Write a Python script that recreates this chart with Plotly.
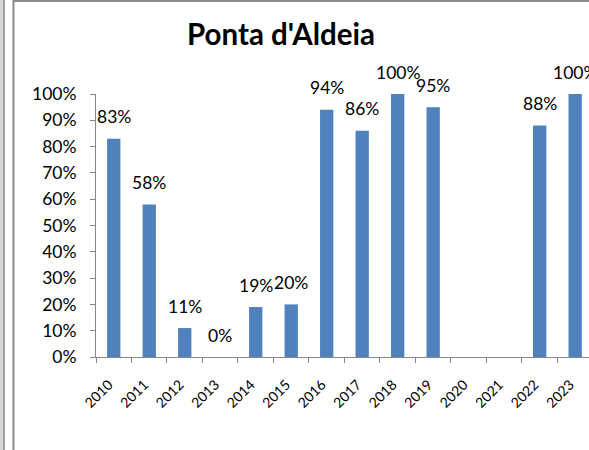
import plotly.graph_objects as go

years = ["2010", "2011", "2012", "2013", "2014", "2015", "2016",
         "2017", "2018", "2019", "2020", "2021", "2022", "2023"]
values = [83, 58, 11, 0, 19, 20, 94, 86, 100, 95, None, None, 88, 100]
y_ticks = [0, 10, 20, 30, 40, 50, 60, 70, 80, 90, 100]
title_text = "Ponta d'Aldeia"

W, H = 589, 450
L, R, T, B = 96, 0, 94, 93
FONT = "Lato"
AXIS_COLOR = "#868686"

def px_x(px):
    return (px - L) / (W - L - R)

def px_y(py):
    return (H - B - py) / (H - T - B)

fig = go.Figure()
fig.add_trace(go.Bar(
    x=years, y=values,
    marker=dict(color="#4F81BD", line=dict(width=0)),
    hoverinfo="skip",
))

annotations = []
for i, (yr, v) in enumerate(zip(years, values)):
    if v is None:
        continue
    annotations.append(dict(
        x=i, y=v, xref="x", yref="y", text=f"{v}%", showarrow=False,
        xanchor="center", yanchor="middle", yshift=22,
        font=dict(family=FONT, size=17.5, color="#000000"),
    ))

shapes = [
    dict(type="rect", xref="paper", yref="paper", x0=px_x(0), x1=px_x(3),
         y0=px_y(450), y1=px_y(0), fillcolor="#d6d6d6", line=dict(width=0), layer="above"),
    dict(type="line", xref="paper", yref="paper", x0=px_x(4), x1=px_x(4),
         y0=px_y(450), y1=px_y(0), line=dict(color="#a0a0a0", width=2), layer="above"),
    dict(type="line", xref="paper", yref="paper", x0=px_x(13.5), x1=px_x(13.5),
         y0=px_y(450), y1=px_y(0), line=dict(color="#8c8c8c", width=2), layer="above"),
    dict(type="line", xref="paper", yref="paper", x0=px_x(13), x1=px_x(589),
         y0=px_y(1), y1=px_y(1), line=dict(color="#8c8c8c", width=2), layer="above"),
]

fig.update_layout(
    width=W, height=H,
    margin=dict(l=L, r=R, t=T, b=B, pad=0),
    paper_bgcolor="white", plot_bgcolor="white",
    bargap=0.625,
    showlegend=False,
    title=dict(text=f"<b>{title_text}</b>", xref="container", yref="container",
               x=281 / W, xanchor="center", y=1 - 35 / H, yanchor="middle",
               font=dict(family=FONT, size=29.5, color="#000000")),
    annotations=annotations,
    shapes=shapes,
    xaxis=dict(
        type="category", range=[-0.5, 13.39],
        showline=True, linecolor=AXIS_COLOR, linewidth=1,
        ticks="outside", ticklen=5, tickcolor=AXIS_COLOR, tickson="boundaries",
        tickangle=-45, tickfont=dict(family=FONT, size=14, color="#000000"),
        ticklabelshift=-5, ticklabelstandoff=13,
        showgrid=False, zeroline=False, fixedrange=True,
    ),
    yaxis=dict(
        range=[0, 100], tickvals=y_ticks, ticktext=[f"{t}%" for t in y_ticks],
        showline=True, linecolor=AXIS_COLOR, linewidth=1,
        ticks="outside", ticklen=5, tickcolor=AXIS_COLOR,
        tickfont=dict(family=FONT, size=17.5, color="#000000"),
        ticklabelstandoff=10,
        showgrid=False, zeroline=False, fixedrange=True,
    ),
)

fig.write_html("out.html", config={"displayModeBar": False},
               post_script="document.body.style.margin='0';document.body.style.padding='0';")
